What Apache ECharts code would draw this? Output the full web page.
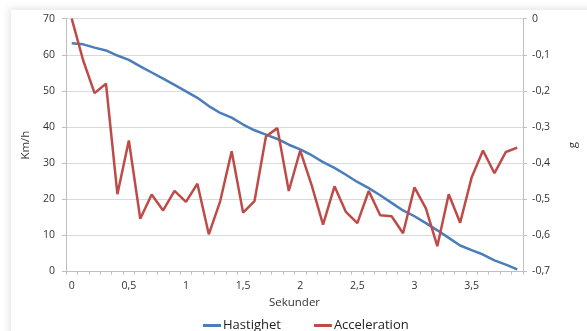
<!DOCTYPE html>
<html>
<head>
<meta charset="utf-8">
<script src="https://cdn.jsdelivr.net/npm/echarts@6/dist/echarts.min.js"></script>
<style>
  html, body { margin: 0; padding: 0; background: #fff; }
  #frame { position: absolute; left: 11px; top: 10px; width: 600px; height: 340px;
           box-shadow: -2px -2px 8px rgba(0,0,0,0.10); background: #fff; }
  #chart { position: absolute; left: 0; top: 0; width: 587px; height: 331px; }
</style>
</head>
<body>
<div id="frame"></div>
<div id="chart"></div>
<script>
// Time in seconds (category labels, decimal comma)
const seconds = ['0','0,1','0,2','0,3','0,4','0,5','0,6','0,7','0,8','0,9',
                 '1','1,1','1,2','1,3','1,4','1,5','1,6','1,7','1,8','1,9',
                 '2','2,1','2,2','2,3','2,4','2,5','2,6','2,7','2,8','2,9',
                 '3','3,1','3,2','3,3','3,4','3,5','3,6','3,7','3,8','3,9'];

// Speed in km/h
const hastighet = [63.2, 62.9, 62.0, 61.2, 59.8, 58.6, 56.8, 55.1, 53.4, 51.7,
                   49.9, 48.1, 45.8, 43.9, 42.6, 40.7, 39.1, 37.9, 36.7, 35.1,
                   33.8, 32.2, 30.3, 28.7, 26.8, 24.8, 23.1, 21.1, 19.0, 16.9,
                   15.3, 13.4, 11.4, 9.3, 7.2, 5.9, 4.7, 3.1, 1.9, 0.6];

// Deceleration in g
const acceleration = [0.0, -0.115, -0.206, -0.18, -0.486, -0.337, -0.554, -0.487, -0.531, -0.477,
                      -0.507, -0.457, -0.597, -0.505, -0.367, -0.537, -0.505, -0.326, -0.303, -0.477,
                      -0.365, -0.461, -0.570, -0.464, -0.535, -0.566, -0.477, -0.544, -0.547, -0.594,
                      -0.467, -0.525, -0.630, -0.486, -0.565, -0.44, -0.365, -0.428, -0.369, -0.357];

const leftTicks = { min: 0, max: 70, step: 10 };
const rightTicks = { min: -0.7, max: 0, step: 0.1 };

const font = 'Open Sans, Liberation Sans, sans-serif';
const chart = echarts.init(document.getElementById('chart'), null, { renderer: 'canvas' });

chart.setOption({
  animation: false,
  backgroundColor: 'transparent',
  grid: { left: 66, right: 45, top: 18.7, bottom: 59.5, containLabel: false },
  legend: {
    top: 314,
    left: 198,
    itemGap: 33,
    icon: 'rect',
    itemWidth: 18,
    itemHeight: 3,
    textStyle: { fontFamily: font, fontSize: 13, color: '#222', padding: [0, 0, 0, -3] },
    data: ['Hastighet', 'Acceleration']
  },
  xAxis: {
    type: 'category',
    data: seconds,
    boundaryGap: true,
    name: 'Sekunder',
    nameLocation: 'middle',
    nameGap: 23,
    nameTextStyle: { fontFamily: font, fontSize: 11.5, color: '#333' },
    axisLine: { lineStyle: { color: '#bfbfbf', width: 1 } },
    axisTick: { show: true, interval: 0, length: 3, lineStyle: { color: '#bfbfbf' } },
    axisLabel: { interval: 4, margin: 9, fontFamily: font, fontSize: 10.5, color: '#333' },
    splitLine: { show: false }
  },
  yAxis: [
    {
      type: 'value',
      min: leftTicks.min, max: leftTicks.max, interval: leftTicks.step,
      name: 'Km/h',
      nameLocation: 'middle',
      nameGap: 29,
      nameRotate: 90,
      nameTextStyle: { fontFamily: font, fontSize: 11.5, color: '#333' },
      axisLine: { show: true, lineStyle: { color: '#bfbfbf' } },
      axisTick: { show: true, length: 4, lineStyle: { color: '#bfbfbf' } },
      axisLabel: { margin: 11, fontFamily: font, fontSize: 10.5, color: '#333' },
      splitLine: { lineStyle: { color: '#d9d9d9', width: 1 } }
    },
    {
      type: 'value',
      min: rightTicks.min, max: rightTicks.max, interval: rightTicks.step,
      name: 'g',
      nameLocation: 'middle',
      nameGap: 44,
      nameRotate: 90,
      nameTextStyle: { fontFamily: font, fontSize: 11.5, color: '#333' },
      axisLine: { show: true, lineStyle: { color: '#bfbfbf' } },
      axisTick: { show: true, length: 4, lineStyle: { color: '#bfbfbf' } },
      axisLabel: {
        margin: 9, fontFamily: font, fontSize: 10.5, color: '#333',
        formatter: v => (Math.abs(v) < 1e-9 ? '0' : v.toFixed(1).replace('.', ','))
      },
      splitLine: { show: false }
    }
  ],
  series: [
    {
      name: 'Hastighet',
      type: 'line',
      yAxisIndex: 0,
      data: hastighet,
      symbol: 'none',
      color: '#4a7ebb',
      lineStyle: { width: 2.5, color: '#4a7ebb' }
    },
    {
      name: 'Acceleration',
      type: 'line',
      yAxisIndex: 1,
      data: acceleration,
      symbol: 'none',
      clip: false,
      color: '#be4b48',
      lineStyle: { width: 2.5, color: '#be4b48' }
    }
  ]
});
</script>
</body>
</html>
